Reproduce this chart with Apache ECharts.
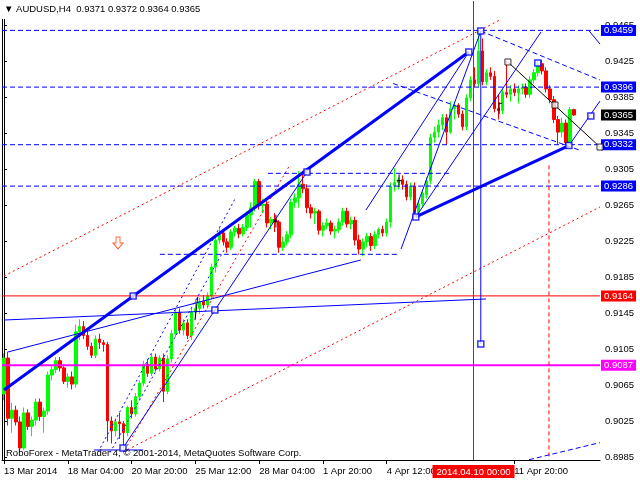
<!DOCTYPE html>
<html><head><meta charset="utf-8">
<script src="https://cdn.jsdelivr.net/npm/echarts@6/dist/echarts.min.js"></script>
<style>html,body{margin:0;padding:0;background:#fff}#c{width:640px;height:480px}</style>
</head><body><div id="c"></div>
<script>
// ---- data ----
const headerText = '\u25BC AUDUSD,H4  0.9371 0.9372 0.9364 0.9365';
const footerText = 'RoboForex - MetaTrader 4, \u00A9 2001-2014, MetaQuotes Software Corp.';
// H4 bars: [open, high, low, close]
const bars = [
[.9055,.9100,.9048,.9095],[.9095,.9102,.9020,.9028],[.9028,.9045,.9012,.9037],[.9037,.9042,.9020,.9024],
[.9024,.9030,.8990,.8995],[.8995,.9040,.8993,.9034],[.9034,.9038,.9015,.9019],[.9019,.9030,.9008,.9026],
[.9026,.9050,.9020,.9046],[.9046,.9050,.9025,.9030],[.9030,.9040,.9012,.9036],[.9036,.9080,.9032,.9076],
[.9076,.9088,.9070,.9082],[.9082,.9096,.9078,.9092],[.9092,.9096,.9080,.9084],[.9084,.9088,.9066,.9069],
[.9069,.9078,.9062,.9074],[.9074,.9080,.9060,.9066],[.9066,.9132,.9062,.9124],[.9124,.9138,.9115,.9130],
[.9130,.9136,.9116,.9120],[.9120,.9128,.9104,.9108],[.9108,.9112,.9095,.9098],[.9098,.9120,.9095,.9116],
[.9116,.9122,.9105,.9112],[.9112,.9115,.9102,.9110],[.9110,.9113,.9002,.9025],[.9025,.9030,.9000,.9014],
[.9014,.9028,.9008,.9024],[.9024,.9034,.9005,.9022],[.9022,.9025,.8993,.9012],[.9012,.9042,.9008,.9040],
[.9040,.9048,.9028,.9033],[.9033,.9056,.9030,.9052],[.9052,.9070,.9048,.9067],[.9067,.9092,.9064,.9088],
[.9088,.9094,.9074,.9078],[.9078,.9100,.9075,.9096],[.9096,.9100,.9080,.9083],[.9083,.9098,.9080,.9095],
[.9095,.9100,.9046,.9058],[.9058,.9098,.9055,.9094],[.9094,.9126,.9090,.9122],[.9122,.9150,.9118,.9146],
[.9146,.9150,.9122,.9126],[.9126,.9138,.9120,.9134],[.9134,.9138,.9116,.9120],[.9120,.9150,.9115,.9146],
[.9146,.9160,.9138,.9150],[.9150,.9162,.9144,.9158],[.9158,.9165,.9150,.9154],[.9154,.9168,.9150,.9164],
[.9164,.9200,.9160,.9196],[.9196,.9230,.9190,.9226],[.9226,.9240,.9222,.9234],[.9234,.9238,.9220,.9224],
[.9224,.9228,.9212,.9218],[.9218,.9238,.9215,.9235],[.9235,.9242,.9230,.9239],[.9239,.9244,.9228,.9233],
[.9233,.9244,.9230,.9240],[.9240,.9258,.9236,.9254],[.9254,.9268,.9240,.9262],[.9262,.9294,.9258,.9291],
[.9291,.9294,.9260,.9264],[.9264,.9272,.9256,.9266],[.9266,.9270,.9240,.9245],[.9245,.9252,.9238,.9249],
[.9249,.9256,.9235,.9246],[.9246,.9248,.9212,.9218],[.9218,.9230,.9214,.9224],[.9224,.9236,.9220,.9232],
[.9232,.9272,.9228,.9268],[.9268,.9278,.9262,.9273],[.9273,.9303,.9262,.9288],[.9288,.9303,.9278,.9283],
[.9283,.9288,.9256,.9262],[.9262,.9266,.9250,.9256],[.9256,.9262,.9244,.9258],[.9258,.9260,.9232,.9237],
[.9237,.9246,.9230,.9242],[.9242,.9250,.9238,.9245],[.9245,.9248,.9232,.9236],[.9236,.9242,.9228,.9238],
[.9238,.9250,.9234,.9246],[.9246,.9262,.9242,.9258],[.9258,.9262,.9240,.9244],[.9244,.9252,.9238,.9248],
[.9248,.9252,.9220,.9226],[.9226,.9232,.9210,.9216],[.9216,.9228,.9208,.9224],[.9224,.9234,.9218,.9230],
[.9230,.9234,.9214,.9220],[.9220,.9236,.9216,.9232],[.9232,.9240,.9228,.9238],[.9238,.9242,.9230,.9234],
[.9234,.9250,.9230,.9246],[.9246,.9290,.9240,.9286],[.9286,.9306,.9280,.9290],[.9290,.9296,.9282,.9293],
[.9293,.9298,.9282,.9288],[.9288,.9292,.9270,.9274],[.9274,.9290,.9270,.9286],[.9286,.9290,.9252,.9256],
[.9256,.9270,.9250,.9266],[.9266,.9282,.9262,.9278],[.9276,.9296,.9272,.9292],[.9292,.9344,.9288,.9340],
[.9340,.9352,.9334,.9346],[.9346,.9360,.9340,.9354],[.9354,.9366,.9348,.9362],[.9362,.9366,.9332,.9346],
[.9346,.9380,.9344,.9372],[.9372,.9380,.9360,.9376],[.9376,.9378,.9362,.9366],[.9366,.9370,.9348,.9352],
[.9352,.9388,.9348,.9384],[.9384,.9408,.9380,.9404],[.9404,.9418,.9396,.9400],[.9400,.9459,.9396,.9436],
[.9436,.9450,.9398,.9402],[.9402,.9416,.9398,.9412],[.9412,.9418,.9404,.9408],[.9408,.9414,.9368,.9372],
[.9372,.9388,.9360,.9370],[.9370,.9394,.9366,.9390],[.9390,.9425,.9384,.9388],[.9388,.9398,.9380,.9394],
[.9394,.9400,.9386,.9390],[.9390,.9398,.9378,.9394],[.9394,.9400,.9388,.9396],[.9396,.9400,.9384,.9388],
[.9388,.9408,.9384,.9404],[.9404,.9416,.9400,.9412],[.9412,.9426,.9408,.9422],[.9422,.9426,.9410,.9414],
[.9414,.9418,.9390,.9394],[.9394,.9398,.9378,.9382],[.9382,.9386,.9356,.9360],[.9360,.9364,.9332,.9346],
[.9346,.9362,.9340,.9356],[.9356,.9360,.9332,.9334],[.9334,.9374,.9332,.9371],[.9371,.9372,.9364,.9365]
];
const priceTicks = [0.8985,0.9025,0.9065,0.9105,0.9145,0.9185,0.9225,0.9265,0.9305,0.9345,0.9385,0.9425,0.9465];
const timeTickBars = [0,16,32,48,64,80,96,128];
const timeTickLabels = ['13 Mar 2014','18 Mar 04:00','20 Mar 20:00','25 Mar 12:00','28 Mar 04:00','1 Apr 20:00','4 Apr 12:00','11 Apr 20:00'];
const crossBar = 117.77, crossLabel = '2014.04.10 00:00';
// horizontal levels
const blueLevels = [0.9459,0.9396,0.9332,0.9286];
const redLevel = 0.9164;
const magentaLevel = 0.9087;
const bidLevel = 0.9365;
// drawn objects: segments in [bar, price]
const thickBlue = [[[0,0.90594],[116.6,0.9435]],[[103.3,0.92517],[141.7,0.9331]]];
const thinBlue = [
 [[119.6,0.94583],[119.6,0.91106]],
 [[0,0.91372],[120.9,0.91606]],
 [[1,0.91017],[89.5,0.92039]],
 [[29.85,0.8995],[76,0.93017]],
 [[103.3,0.92517],[134.7,0.94572]],
 [[90.8,0.92594],[116.6,0.9435]],
 [[99.6,0.92161],[119.6,0.94583]],
 [[141.7,0.9331],[149.5,0.93806]],
 [[22.6,0.89928],[34.9,0.89928]],
 [[146.8,0.94583],[149.5,0.94439]]
];
const dashedBlue = [
 [[66.2,0.93002],[111.9,0.93002]],
 [[39.1,0.92102],[98.6,0.92102]],
 [[119.6,0.94583],[149.5,0.94039]],
 [[97.6,0.9400],[144.6,0.93256]],
 [[131.7,0.8982],[149.5,0.9001]]
];
const dottedBlue = [[[23.6,0.89906],[58.2,0.92739]],[[26.6,0.8990],[55.2,0.9215]]];
const dottedRed = [
 [[0,0.91861],[124.4,0.94706]],
 [[29.85,0.89906],[149.5,0.92628]],
 [[30.3,0.89928],[71.7,0.93094]]
];
const dashedRed = [[[136.7,0.9309],[136.7,0.8982]]];
const blackLines = [
 [[126.4,0.94239],[149.5,0.93294]],
 [[48.6,0.91630],[47.9,0.91370]],
 [[68.2,0.92540],[68.2,0.92400]],[[67.6,0.92470],[68.8,0.92470]],
 [[99.1,0.92990],[99.1,0.92850]],[[98.5,0.92920],[99.7,0.92920]],
 [[124.2,0.93790],[124.2,0.93660]],[[124.2,0.93780],[124.9,0.93780]]
];
const blueSquares = [[29.85,0.8995],[32.4,0.9164],[52.9,0.91483],[76,0.93017],[103.3,0.92517],[116.6,0.9435],[119.6,0.94583],[119.6,0.91106],[141.7,0.9331],[147.2,0.93639],[133.9,0.94228]];
const blackSquares = [[126.4,0.94239],[138.2,0.93761],[149.5,0.93294]];
const arrowPoint = [[28.6,0.92228]];

// ---- chart ----
const FONT = 'Liberation Sans';
const FS = 9.5;
const X0 = -0.5, X1 = 149.5, Y0 = 0.898167, Y1 = 0.949167;
const chart = echarts.init(document.getElementById('c'), null, {renderer:'canvas'});
const candles = bars.map((b,i)=>[i,b[0],b[3],b[2],b[1]]);
const series = [];
function seg(list, style, z){
  list.forEach(s=>series.push({type:'line',data:s,symbol:'none',silent:true,animation:false,z:z||3,
    color:style.color,lineStyle:style, clip:true}));
}
function levelLabel(v, bg){
  series.push({type:'line',data:[],silent:true,animation:false,z:7,
    markLine:{symbol:['none','none'],precision:6,silent:true,animation:false,
      lineStyle:{color:'rgba(255,255,255,0)',width:1},
      label:{show:true,position:'end',distance:1,formatter:v.toFixed(4),
        backgroundColor:bg,color:'#fff',fontFamily:FONT,fontSize:FS,padding:[1,3,0,3],lineHeight:10},
      data:[{yAxis:v}]}});
}
series.push({type:'candlestick',data:candles,barWidth:3,animation:false,z:2,
  itemStyle:{color:'#00ff00',color0:'#ff0000',borderColor:'#00ff00',borderColor0:'#ff0000',borderWidth:1}});
// level lines
seg(blueLevels.map(v=>[[X0,v],[X1,v]]),{color:'#0000ff',type:[5,3],width:1});
seg([[[X0,redLevel],[X1,redLevel]]],{color:'#ff0000',type:'solid',width:1});
seg([[[X0,magentaLevel],[X1,magentaLevel]]],{color:'#ff00ff',type:'solid',width:2});
seg([[[crossBar,Y0],[crossBar,Y1]]],{color:'#ff0000',type:'solid',width:1});
blueLevels.forEach(v=>levelLabel(v,'#0000ff'));
levelLabel(redLevel,'#ff0000');
levelLabel(magentaLevel,'#ff00ff');
levelLabel(bidLevel,'#000000');
series.push({type:'line',data:[],silent:true,animation:false,z:7,
  markLine:{symbol:['none','none'],precision:6,silent:true,animation:false,
    lineStyle:{color:'rgba(255,255,255,0)',width:1},
    label:{show:true,position:'start',distance:5,formatter:crossLabel,backgroundColor:'#ff0000',color:'#fff',
      fontFamily:FONT,fontSize:FS,padding:[2,4,1,4]},
    data:[{xAxis:crossBar}]}});
seg(dottedRed,{color:'#ff0000',type:[2,3],width:1});
seg(dashedRed,{color:'#ff0000',type:[4,3],width:1});
seg(dottedBlue,{color:'#0000ff',type:[2,3],width:1});
seg(dashedBlue,{color:'#0000ff',type:[5,3],width:1});
seg(thinBlue,{color:'#0000ff',type:'solid',width:1});
seg(blackLines,{color:'#000000',type:'solid',width:1});
seg(thickBlue,{color:'#0000ff',type:'solid',width:3},5);
series.push({type:'scatter',data:blueSquares,symbol:'rect',symbolSize:6,silent:true,animation:false,z:6,
  itemStyle:{color:'#ffffff',borderColor:'#0000ff',borderWidth:1.5}});
series.push({type:'scatter',data:blackSquares,symbol:'rect',symbolSize:6,silent:true,animation:false,z:6,
  itemStyle:{color:'#ffffff',borderColor:'#000000',borderWidth:1}});
series.push({type:'scatter',data:arrowPoint,silent:true,animation:false,z:6,
  symbol:'path://M3,0 L7,0 L7,6 L10,6 L5,12 L0,6 L3,6 Z',symbolSize:[10,12],
  itemStyle:{color:'#ffffff',borderColor:'#ff4000',borderWidth:1}});

chart.setOption({
  animation:false,
  backgroundColor:'#ffffff',
  title:[
    {text:headerText,left:0,top:0,padding:[4,6,5,4],backgroundColor:'#ffffff',z:10,
      textStyle:{fontFamily:FONT,fontSize:FS,fontWeight:'normal',color:'#000'}},
    {text:footerText,left:6,top:448,padding:0,z:10,textStyle:{fontFamily:FONT,fontSize:FS,fontWeight:'normal',color:'#000'}}
  ],
  grid:{left:2,right:40,top:1,bottom:20,show:false},
  xAxis:{type:'value',min:X0,max:X1,
    axisLine:{show:true,lineStyle:{color:'#000'}},
    axisTick:{show:true,customValues:timeTickBars,length:4,lineStyle:{color:'#000'}},
    axisLabel:{customValues:timeTickBars,formatter:v=>timeTickLabels[timeTickBars.indexOf(v)]||'',
      align:'left',margin:6,color:'#000',fontFamily:FONT,fontSize:FS},
    splitLine:{show:false}},
  yAxis:[{type:'value',position:'right',min:Y0,max:Y1,scale:true,
    axisLine:{show:true,lineStyle:{color:'#000'}},
    axisTick:{show:true,customValues:priceTicks,length:3,lineStyle:{color:'#000'}},
    axisLabel:{customValues:priceTicks,formatter:v=>v.toFixed(4),margin:5,color:'#000',fontFamily:FONT,fontSize:FS},
    splitLine:{show:false}},
    {type:'value',position:'left',min:Y0,max:Y1,scale:true,
    axisLine:{show:true,lineStyle:{color:'#000'}},axisTick:{show:false},axisLabel:{show:false},splitLine:{show:false}}],
  series:series
});
</script></body></html>
